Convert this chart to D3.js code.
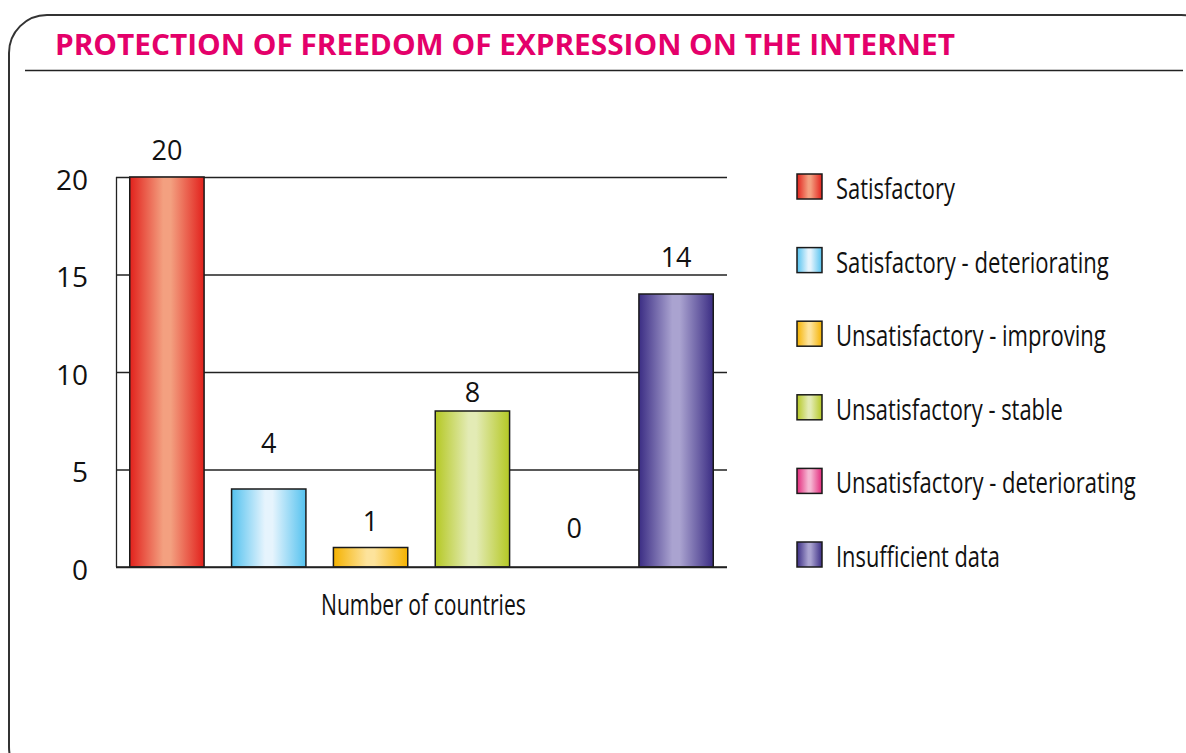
<!DOCTYPE html>
<html>
<head>
<meta charset="utf-8">
<script src="https://cdn.jsdelivr.net/npm/d3@7"></script>
<style>
  html, body { margin: 0; padding: 0; background: #fff; }
  svg { display: block; }
</style>
</head>
<body>
<svg id="chart" width="1186" height="753"></svg>
<script>
// ---- data ----
const titleText = "PROTECTION OF FREEDOM OF EXPRESSION ON THE INTERNET";
const categories = [
  "Satisfactory",
  "Satisfactory - deteriorating",
  "Unsatisfactory - improving",
  "Unsatisfactory - stable",
  "Unsatisfactory - deteriorating",
  "Insufficient data"
];
const values = [20, 4, 1, 8, 0, 14];
const yTicks = [0, 5, 10, 15, 20];
const xAxisTitle = "Number of countries";

// ---- styles ----
const edgeColors   = ["#e2211c", "#54c2ef", "#f5b200", "#b5c824", "#e3287b", "#3b2d84"];
const centerColors = ["#f3a080", "#e6f4fd", "#fde39c", "#e3ebb5", "#f5b8d3", "#aaa3d0"];
const labelGaps    = [17, 36, 17, 9, 29, 27];
const legendTextWidths = [119, 273, 270, 227, 300, 164];

const svg = d3.select("#chart");
const defs = svg.append("defs");

categories.forEach((c, i) => {
  const g = defs.append("linearGradient")
    .attr("id", "grad" + i)
    .attr("x1", "0%").attr("x2", "100%").attr("y1", "0%").attr("y2", "0%");
  g.append("stop").attr("offset", "0%").attr("stop-color", edgeColors[i]);
  g.append("stop").attr("offset", "45%").attr("stop-color", centerColors[i]);
  g.append("stop").attr("offset", "55%").attr("stop-color", centerColors[i]);
  g.append("stop").attr("offset", "100%").attr("stop-color", edgeColors[i]);
});

// condensed text helper: squeeze horizontally to target width
function condensedText(parent, tx, ty, str, size, targetWidth) {
  const g = parent.append("g");
  const t = g.append("text")
    .attr("x", 0).attr("y", 0)
    .attr("font-family", "'Open Sans', sans-serif")
    .attr("font-size", size)
    .attr("fill", "#111")
    .text(str);
  const w = t.node().getComputedTextLength();
  const sx = w > 0 ? targetWidth / w : 1;
  g.attr("transform", `translate(${tx},${ty}) scale(${sx},1)`);
  return g;
}

// frame
svg.append("rect")
  .attr("x", 9).attr("y", 15)
  .attr("width", 1210).attr("height", 770)
  .attr("rx", 38).attr("ry", 38)
  .attr("fill", "none")
  .attr("stroke", "#333").attr("stroke-width", 2);

// title
svg.append("text")
  .attr("x", 55).attr("y", 55)
  .attr("font-family", "'Open Sans', sans-serif")
  .attr("font-weight", 700)
  .attr("font-size", 29)
  .attr("fill", "#e4006a")
  .attr("textLength", 900)
  .attr("lengthAdjust", "spacingAndGlyphs")
  .text(titleText);

svg.append("line")
  .attr("x1", 25).attr("x2", 1183)
  .attr("y1", 70.5).attr("y2", 70.5)
  .attr("stroke", "#222").attr("stroke-width", 1.6);

// scales
const x = d3.scaleBand()
  .domain(categories)
  .range([116, 727])
  .paddingInner(0.27)
  .paddingOuter(0.135);

const y = d3.scaleLinear()
  .domain([0, 20])
  .range([567, 177]);

// gridlines
const grid = svg.append("g")
  .attr("transform", "translate(116,0)")
  .call(d3.axisRight(y).tickValues(yTicks).tickSize(727 - 116).tickFormat(""));
grid.select(".domain").remove();
grid.selectAll(".tick line").attr("stroke", "#222").attr("stroke-width", 1.3);

// left axis line
svg.append("line")
  .attr("x1", 116.5).attr("x2", 116.5)
  .attr("y1", y(20)).attr("y2", y(0))
  .attr("stroke", "#222").attr("stroke-width", 1.3);

// y tick labels
const yAxis = svg.append("g")
  .attr("transform", "translate(88,0)")
  .call(d3.axisLeft(y).tickValues(yTicks).tickSize(0).tickPadding(0));
yAxis.select(".domain").remove();
yAxis.selectAll(".tick text")
  .attr("font-family", "'Open Sans', sans-serif")
  .attr("font-size", 28)
  .attr("fill", "#111")
  .attr("dy", "0.3em")
  .attr("transform", "translate(0,4)");

// bars
svg.append("g").selectAll("rect")
  .data(values)
  .join("rect")
  .attr("x", (d, i) => x(categories[i]))
  .attr("y", d => y(d))
  .attr("width", x.bandwidth())
  .attr("height", d => y(0) - y(d))
  .attr("fill", (d, i) => `url(#grad${i})`)
  .attr("stroke", "#1a1a1a")
  .attr("stroke-width", 1.5);

// baseline
svg.append("line")
  .attr("x1", 116).attr("x2", 727)
  .attr("y1", y(0)).attr("y2", y(0))
  .attr("stroke", "#222").attr("stroke-width", 1.6);

// value labels
svg.append("g").selectAll("text")
  .data(values)
  .join("text")
  .attr("x", (d, i) => x(categories[i]) + x.bandwidth() / 2)
  .attr("y", (d, i) => y(d) - labelGaps[i])
  .attr("text-anchor", "middle")
  .attr("font-family", "'Open Sans', sans-serif")
  .attr("font-size", 27)
  .attr("fill", "#111")
  .text(d => d);

// x axis title
condensedText(svg, 321, 615, xAxisTitle, 30, 205);

// legend
const legend = svg.append("g").selectAll("g")
  .data(categories)
  .join("g")
  .attr("transform", (d, i) => `translate(797,${174 + i * 73.6})`);

legend.append("rect")
  .attr("width", 25).attr("height", 25)
  .attr("fill", (d, i) => `url(#grad${i})`)
  .attr("stroke", "#1a1a1a")
  .attr("stroke-width", 1.5);

legend.each(function (d, i) {
  condensedText(d3.select(this), 39, 25, d, 29.5, legendTextWidths[i]);
});
</script>
</body>
</html>
